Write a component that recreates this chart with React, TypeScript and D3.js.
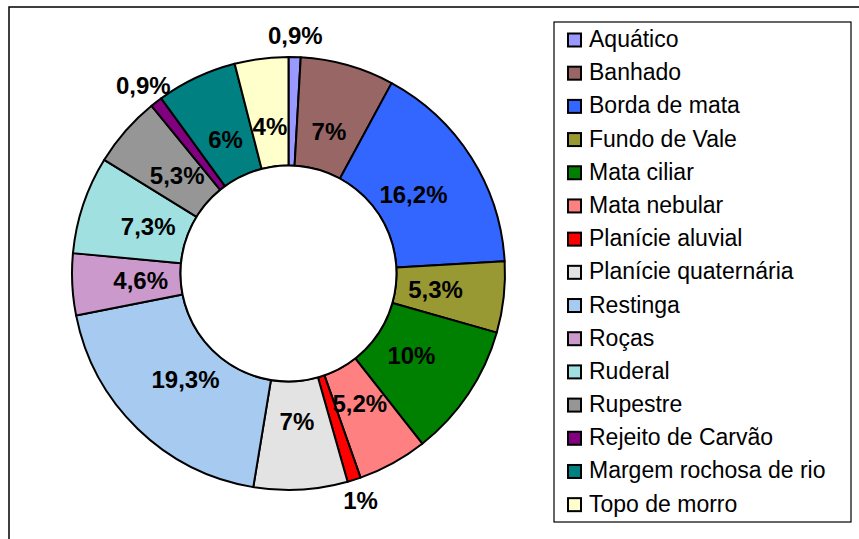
import React from "react";
import * as d3 from "d3";

const categories = [
  "Aquático",
  "Banhado",
  "Borda de mata",
  "Fundo de Vale",
  "Mata ciliar",
  "Mata nebular",
  "Planície aluvial",
  "Planície quaternária",
  "Restinga",
  "Roças",
  "Ruderal",
  "Rupestre",
  "Rejeito de Carvão",
  "Margem rochosa de rio",
  "Topo de morro",
];
const values = [0.9, 7, 16.2, 5.3, 10, 5.2, 1, 7, 19.3, 4.6, 7.3, 5.3, 0.9, 6, 4];
const labels = ["0,9%", "7%", "16,2%", "5,3%", "10%", "5,2%", "1%", "7%", "19,3%", "4,6%", "7,3%", "5,3%", "0,9%", "6%", "4%"];
const colors = [
  "#9999FF",
  "#996666",
  "#3366FF",
  "#999933",
  "#008000",
  "#FF8080",
  "#FF0000",
  "#E3E3E3",
  "#A6CAF0",
  "#CC99CC",
  "#A0E0E0",
  "#969696",
  "#800080",
  "#008080",
  "#FFFFCC",
];

const W = 859;
const H = 539;
const cx = 288.5;
const cy = 273.5;
const rOuter = 216.5;
const rInner = 108;
const rLabel = 148;
const rLabelOut = 238;

export default function App() {
  const pie = d3
    .pie<number>()
    .sort(null)
    .value((d) => d)
    .startAngle(0)
    .endAngle(2 * Math.PI);
  const arcs = pie(values);
  const arcGen = d3.arc<d3.PieArcDatum<number>>().innerRadius(rInner).outerRadius(rOuter);

  const legendX = 554;
  const legendY = 22;
  const legendW = 297;
  const legendH = 500;
  const step = 33.19;
  const firstBaseline = 47;

  return (
    <svg
      width={W}
      height={H}
      style={{ position: "absolute", left: 0, top: 0, background: "#fff" }}
      fontFamily="'Liberation Sans', Arial, sans-serif"
    >
      <rect x={0} y={0} width={W} height={H} fill="#fff" />
      <rect x={9} y={7} width={900} height={600} fill="none" stroke="#000" strokeWidth={1.5} />
      <g transform={`translate(${cx},${cy})`}>
        {arcs.map((a, i) => (
          <path key={i} d={arcGen(a) || ""} fill={colors[i]} stroke="#000" strokeWidth={2} strokeLinejoin="round" />
        ))}
        <circle r={rInner} fill="#fff" stroke="#000" strokeWidth={2} />
        {arcs.map((a, i) => {
          const mid = (a.startAngle + a.endAngle) / 2;
          const r = values[i] < 2 ? rLabelOut : rLabel;
          const x = r * Math.sin(mid);
          const y = -r * Math.cos(mid);
          return (
            <text
              key={i}
              x={x}
              y={y}
              textAnchor="middle"
              dominantBaseline="central"
              fontWeight="bold"
              fontSize={24}
              fill="#000"
            >
              {labels[i]}
            </text>
          );
        })}
      </g>
      <rect x={legendX} y={legendY} width={legendW} height={legendH} fill="#fff" stroke="#000" strokeWidth={1.2} />
      {categories.map((c, i) => {
        const base = firstBaseline + i * step;
        return (
          <g key={c}>
            <rect x={568} y={base - 13.5} width={13} height={13} fill={colors[i]} stroke="#000" strokeWidth={2} />
            <text x={589} y={base} fontSize={23} fill="#000">
              {c}
            </text>
          </g>
        );
      })}
    </svg>
  );
}
